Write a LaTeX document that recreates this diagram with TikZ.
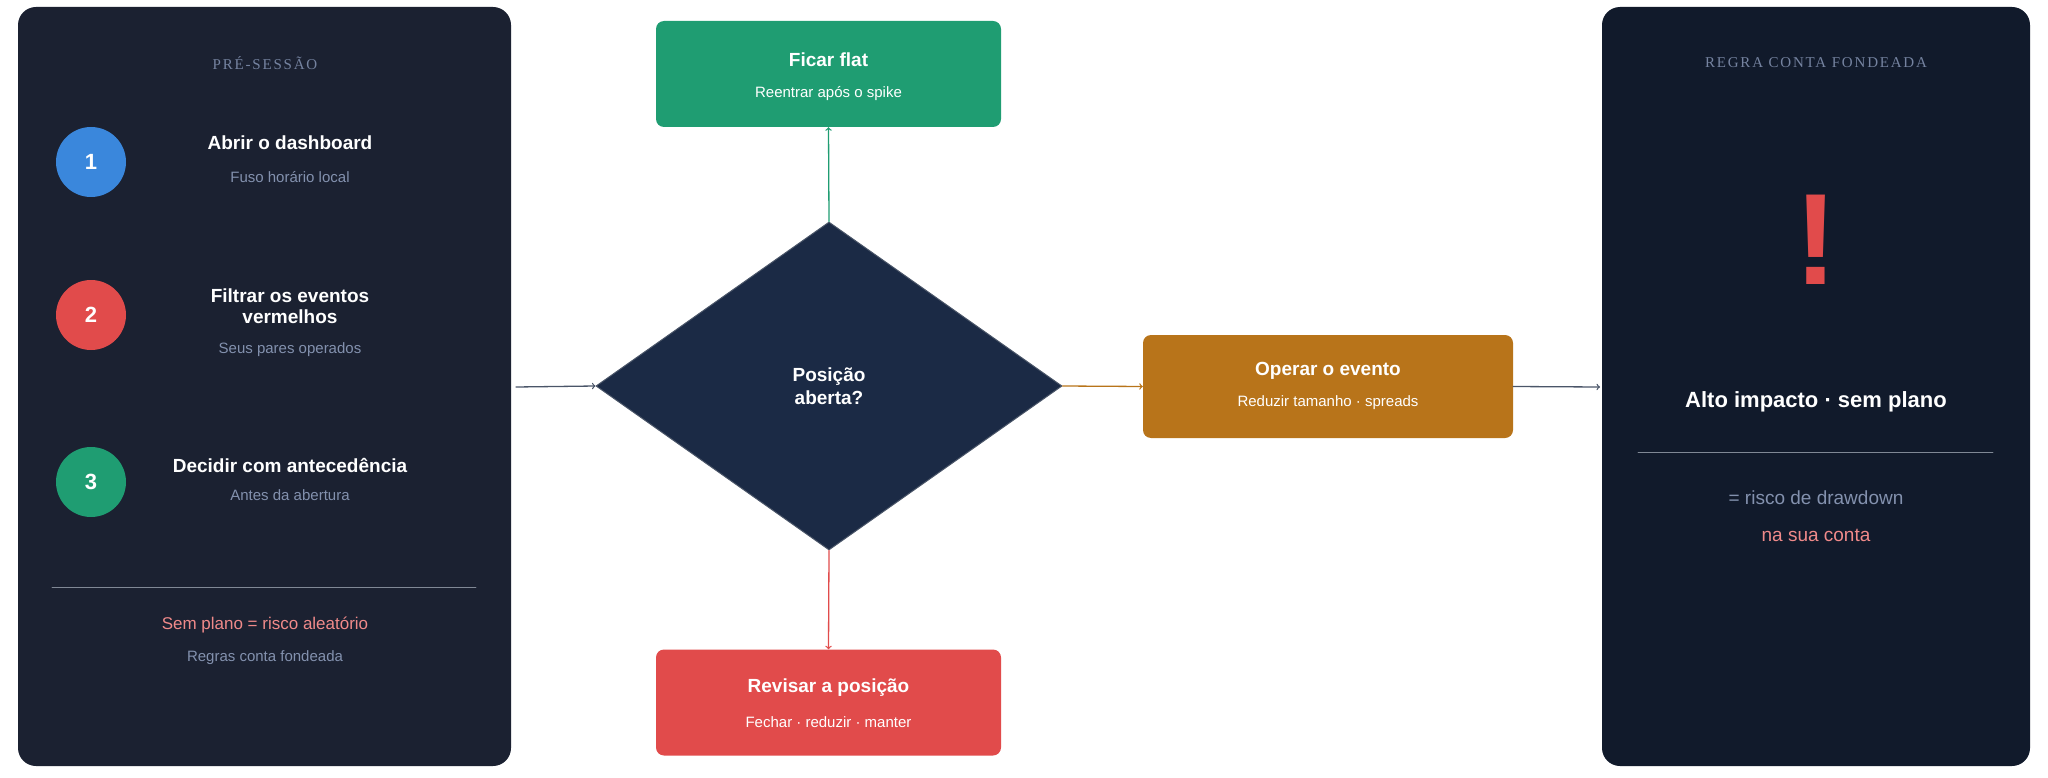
\documentclass[tikz,border=0pt]{standalone}
\usepackage{fontspec}
\setmainfont{Liberation Sans}
\newfontfamily\headfont[LetterSpace=12]{Liberation Serif}
\usetikzlibrary{arrows, calc, positioning, shapes.geometric}
\definecolor{panelA}{HTML}{1B2131}
\definecolor{panelB}{HTML}{111A2B}
\definecolor{diamondfill}{HTML}{1B2A45}
\definecolor{headgrey}{HTML}{7583A0}
\definecolor{subgrey}{HTML}{8391AE}
\definecolor{pinkred}{HTML}{F08A8A}
\definecolor{stepblue}{HTML}{3A87DC}
\definecolor{stepred}{HTML}{E14B4B}
\definecolor{stepgreen}{HTML}{1F9D72}
\definecolor{boxorange}{HTML}{B8741A}
\definecolor{arrowgrey}{HTML}{4A5568}

\begin{document}
\begin{tikzpicture}[x=1pt,y=-1pt,line cap=round,line join=round,>=to,
  panel/.style={rounded corners=18pt},
  header/.style={font=\headfont\fontsize{15}{18}\selectfont, text=headgrey},
  stepdot/.style={circle, minimum size=70pt, inner sep=0pt, text=white, font=\bfseries\fontsize{22}{26}\selectfont},
  title/.style={text=white, font=\bfseries\fontsize{19}{23}\selectfont, align=center},
  sub/.style={text=subgrey, font=\fontsize{15}{18}\selectfont},
  action/.style={rectangle, rounded corners=8pt, minimum width=345pt, minimum height=106pt, text=white},
  link/.style={->, line width=1.3pt}]
\useasboundingbox (0,0) rectangle (2048,778);

% Panels
\fill [panel, panelA] (18,7) rectangle (511,766);
\fill [panel, panelB] (1602,7) rectangle (2030,766);

% Left panel
\node [header] (pre) at (265,63) {PRÉ-SESSÃO};
\node [stepdot, fill=stepblue] (s1) at (91,162) {1};
\node [stepdot, fill=stepred] (s2) at (91,315) {2};
\node [stepdot, fill=stepgreen] (s3) at (91,482) {3};
\node [title] (t1) at (290,143) {Abrir o dashboard};
\node [sub] (u1) at (290,177) {Fuso horário local};
\node [title] (t2) at (290,306) {Filtrar os eventos\\[-2pt]vermelhos};
\node [sub] (u2) at (290,350) {Seus pares operados};
\node [title] (t3) at (290,465) {Decidir com antecedência};
\node [sub] (u3) at (290,495) {Antes da abertura};
\draw [line width=0.6pt, arrowgrey!70] (52,587) -- (476,587);
\node [sub, text=pinkred, font=\fontsize{17}{20}\selectfont] (w1) at (265,625) {Sem plano = risco aleatório};
\node [sub] (w2) at (265,658) {Regras conta fondeada};
\coordinate (leftout) at (516,387);

% Decision
\node [diamond, fill=diamondfill, draw=arrowgrey, line width=1pt, minimum width=466pt, minimum height=328pt, inner sep=0pt] (q) at (829,386) {};
\node [title] at (q) {Posição\\aberta?};

% Outcomes
\node [action, fill=stepgreen] (flat) at (828.5,74) {};
\node [title] at (828.5,60) {Ficar flat};
\node [text=white, font=\fontsize{15}{18}\selectfont] at (828.5,94) {Reentrar após o spike};
\node [action, fill=stepred] (rev) at (828.5,702.5) {};
\node [title] at (828.5,688) {Revisar a posição};
\node [text=white, font=\fontsize{15}{18}\selectfont] at (828.5,722) {Fechar · reduzir · manter};
\node [action, fill=boxorange, minimum width=370pt, minimum height=103pt] (op) at (1328,386.5) {};
\node [title] at (1328,371) {Operar o evento};
\node [text=white, font=\fontsize{15}{18}\selectfont] at (1328,403) {Reduzir tamanho · spreads};

% Right panel
\node [header] (rule) at (1816,63) {REGRA CONTA FONDEADA};
\node [text=stepred, font=\bfseries\fontsize{130}{130}\selectfont] (bang) at (1816,240) {!};
\node [title, font=\bfseries\fontsize{22}{26}\selectfont] (alto) at (1816,402) {Alto impacto · sem plano};
\draw [line width=0.6pt, arrowgrey!70] (1638,452) -- (1993,452);
\node [sub, font=\fontsize{19}{22}\selectfont] (r1) at (1816,498) {= risco de drawdown};
\node [sub, text=pinkred, font=\fontsize{19}{22}\selectfont] (r2) at (1816,535) {na sua conta};
\coordinate (rightin) at (1600,387);

% Connectors
\draw [link, arrowgrey] (leftout) -- (q.west);
\draw [link, stepgreen] (q.north) -- (flat.south);
\draw [link, stepred] (q.south) -- (rev.north);
\draw [link, boxorange] (q.east) -- (op.west);
\draw [link, arrowgrey] (op.east) -- (rightin);
\end{tikzpicture}
\end{document}
